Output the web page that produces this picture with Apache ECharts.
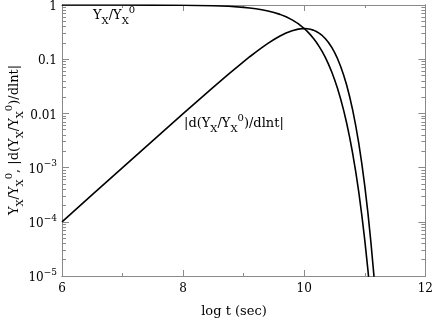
<!DOCTYPE html>
<html>
<head>
<meta charset="utf-8">
<script src="https://cdn.jsdelivr.net/npm/echarts@6/dist/echarts.min.js"></script>
<style>
  html, body { margin: 0; padding: 0; background: #fff; }
  #chart { width: 436px; height: 320px; }
</style>
</head>
<body>
<div id="chart"></div>
<script>
// log t (sec)
const logT = [6, 6.5, 7, 7.5, 8, 8.5, 8.75, 9, 9.1, 9.2, 9.3, 9.4, 9.5, 9.6, 9.7, 9.8, 9.9, 10,
  10.05, 10.1, 10.15, 10.2, 10.25, 10.3, 10.35, 10.4, 10.45, 10.5, 10.55, 10.6, 10.65, 10.7,
  10.75, 10.8, 10.85, 10.9, 10.95, 11.0, 11.05, 11.1, 11.15, 11.2];
// Y_X / Y_X^0
const yRatio = [0.9999, 0.9997, 0.999, 0.9968, 0.9900, 0.9689, 0.9453, 0.9048, 0.8817, 0.8534, 0.8191, 0.7779, 0.7289, 0.6716, 0.6058, 0.5321, 0.4519, 0.3679,
  0.3256, 0.2840, 0.2435, 0.2050, 0.1689, 0.1360, 0.1066, 0.0811, 0.0597, 0.04233, 0.02878, 0.01867, 0.01148, 0.006658,
  0.003612, 0.001819, 8.42e-4, 3.55e-4, 1.347e-4, 4.54e-5, 1.34e-5, 3.41e-6, 7.34e-7, 1.31e-7];
// |d(Y_X/Y_X^0)/dlnt|
const yDeriv = [1e-4, 3.16e-4, 9.99e-4, 3.15e-3, 0.0099, 0.03064, 0.05315, 0.0905, 0.1110, 0.1353, 0.1634, 0.1954, 0.2305, 0.2674, 0.3036, 0.3357, 0.3590, 0.3679,
  0.3653, 0.3575, 0.3440, 0.3249, 0.3004, 0.2713, 0.2387, 0.2037, 0.1683, 0.1338, 0.1021, 0.07432, 0.0513, 0.03335,
  0.02031, 0.01147, 5.96e-3, 2.82e-3, 1.2e-3, 4.54e-4, 1.504e-4, 4.29e-5, 1.037e-5, 2.07e-6];

const xMajor = [6, 8, 10, 12];
const xMinor = [7, 9, 11];
const yMajor = [1e-5, 1e-4, 1e-3, 0.01, 0.1, 1];
const yTickLabels = ['{b|10}{s|\u22125}', '{b|10}{s|\u22124}', '{b|10}{s|\u22123}', '{b|0.01}', '{b|0.1}', '{b|1}'];

const yMinor = [];
for (let d = -5; d < 0; d++) {
  for (let m = 2; m <= 9; m++) yMinor.push(m * Math.pow(10, d));
}

const frame = '#8a8a8a';
const font = 'DejaVu Serif';

const richY = {
  b: { fontFamily: font, fontSize: 12, color: '#000', lineHeight: 16, verticalAlign: 'bottom' },
  s: { fontFamily: font, fontSize: 9, color: '#000', lineHeight: 16, verticalAlign: 'top' }
};
const richTxt = {
  b: { fontFamily: font, fontSize: 13, color: '#000', lineHeight: 21 },
  sub: { fontFamily: font, fontSize: 10, color: '#000', lineHeight: 21, verticalAlign: 'bottom' },
  sup: { fontFamily: font, fontSize: 10, color: '#000', lineHeight: 21, verticalAlign: 'top' }
};

function xAx(ticks, len, show, pos) {
  return {
    type: 'value', min: 6, max: 12, position: pos,
    axisLine: { show: true, onZero: false, lineStyle: { color: frame, width: 1 } },
    axisTick: { show: true, inside: true, length: len, customValues: ticks, lineStyle: { color: frame } },
    axisLabel: { show: show, customValues: ticks, fontFamily: font, fontSize: 12, color: '#000', margin: 7 },
    splitLine: { show: false }
  };
}
function yAx(ticks, len, show, pos) {
  return {
    type: 'log', logBase: 10, min: 1e-5, max: 1, position: pos,
    axisLine: { show: true, onZero: false, lineStyle: { color: frame, width: 1 } },
    axisTick: { show: true, inside: true, length: len, customValues: ticks, lineStyle: { color: frame } },
    axisLabel: {
      show: show, customValues: ticks, margin: 5, rich: richY,
      formatter: function (v) {
        const i = yMajor.findIndex(function (t) { return Math.abs(Math.log10(t) - Math.log10(v)) < 1e-6; });
        return i >= 0 ? yTickLabels[i] : '';
      }
    },
    splitLine: { show: false }
  };
}

function pairs(ys) {
  return logT.map(function (x, i) { return [x, ys[i]]; });
}

const chart = echarts.init(document.getElementById('chart'));
chart.setOption({
  animation: false,
  backgroundColor: '#fff',
  grid: { left: 62, right: 10, top: 5, bottom: 44 },
  xAxis: [
    xAx(xMajor, 6, true, 'bottom'),
    xAx(xMinor, 3, false, 'bottom'),
    xAx(xMajor, 6, false, 'top'),
    xAx(xMinor, 3, false, 'top')
  ],
  yAxis: [
    yAx(yMajor, 7, true, 'left'),
    yAx(yMinor, 4, false, 'left'),
    yAx(yMajor, 7, false, 'right'),
    yAx(yMinor, 4, false, 'right')
  ],
  series: [
    {
      type: 'line', data: pairs(yRatio), showSymbol: false, clip: true,
      lineStyle: { color: '#000', width: 1.6 }
    },
    {
      type: 'line', data: pairs(yDeriv), showSymbol: false, clip: true,
      lineStyle: { color: '#000', width: 1.6 }
    }
  ],
  graphic: [
    {
      type: 'text', left: 93, top: 5,
      style: { text: '{b|Y}{sub|X}{b|/Y}{sub|X}{sup|0}', rich: richTxt }
    },
    {
      type: 'text', left: 184, top: 113,
      style: { text: '{b||d(Y}{sub|X}{b|/Y}{sub|X}{sup|0}{b|)/dlnt|}', rich: richTxt }
    },
    {
      type: 'text', x: 234, y: 312,
      style: { text: 'log t (sec)', fontFamily: font, fontSize: 13, fill: '#000', align: 'center', verticalAlign: 'middle' }
    },
    {
      type: 'text', x: 15, y: 140, rotation: Math.PI / 2, originX: 0, originY: 0,
      style: {
        text: '{b|Y}{sub|X}{b|/Y}{sub|X}{sup|0}{b|, |d(Y}{sub|X}{b|/Y}{sub|X}{sup|0}{b|)/dlnt|}',
        rich: richTxt, align: 'center', verticalAlign: 'middle'
      }
    }
  ]
});
</script>
</body>
</html>
